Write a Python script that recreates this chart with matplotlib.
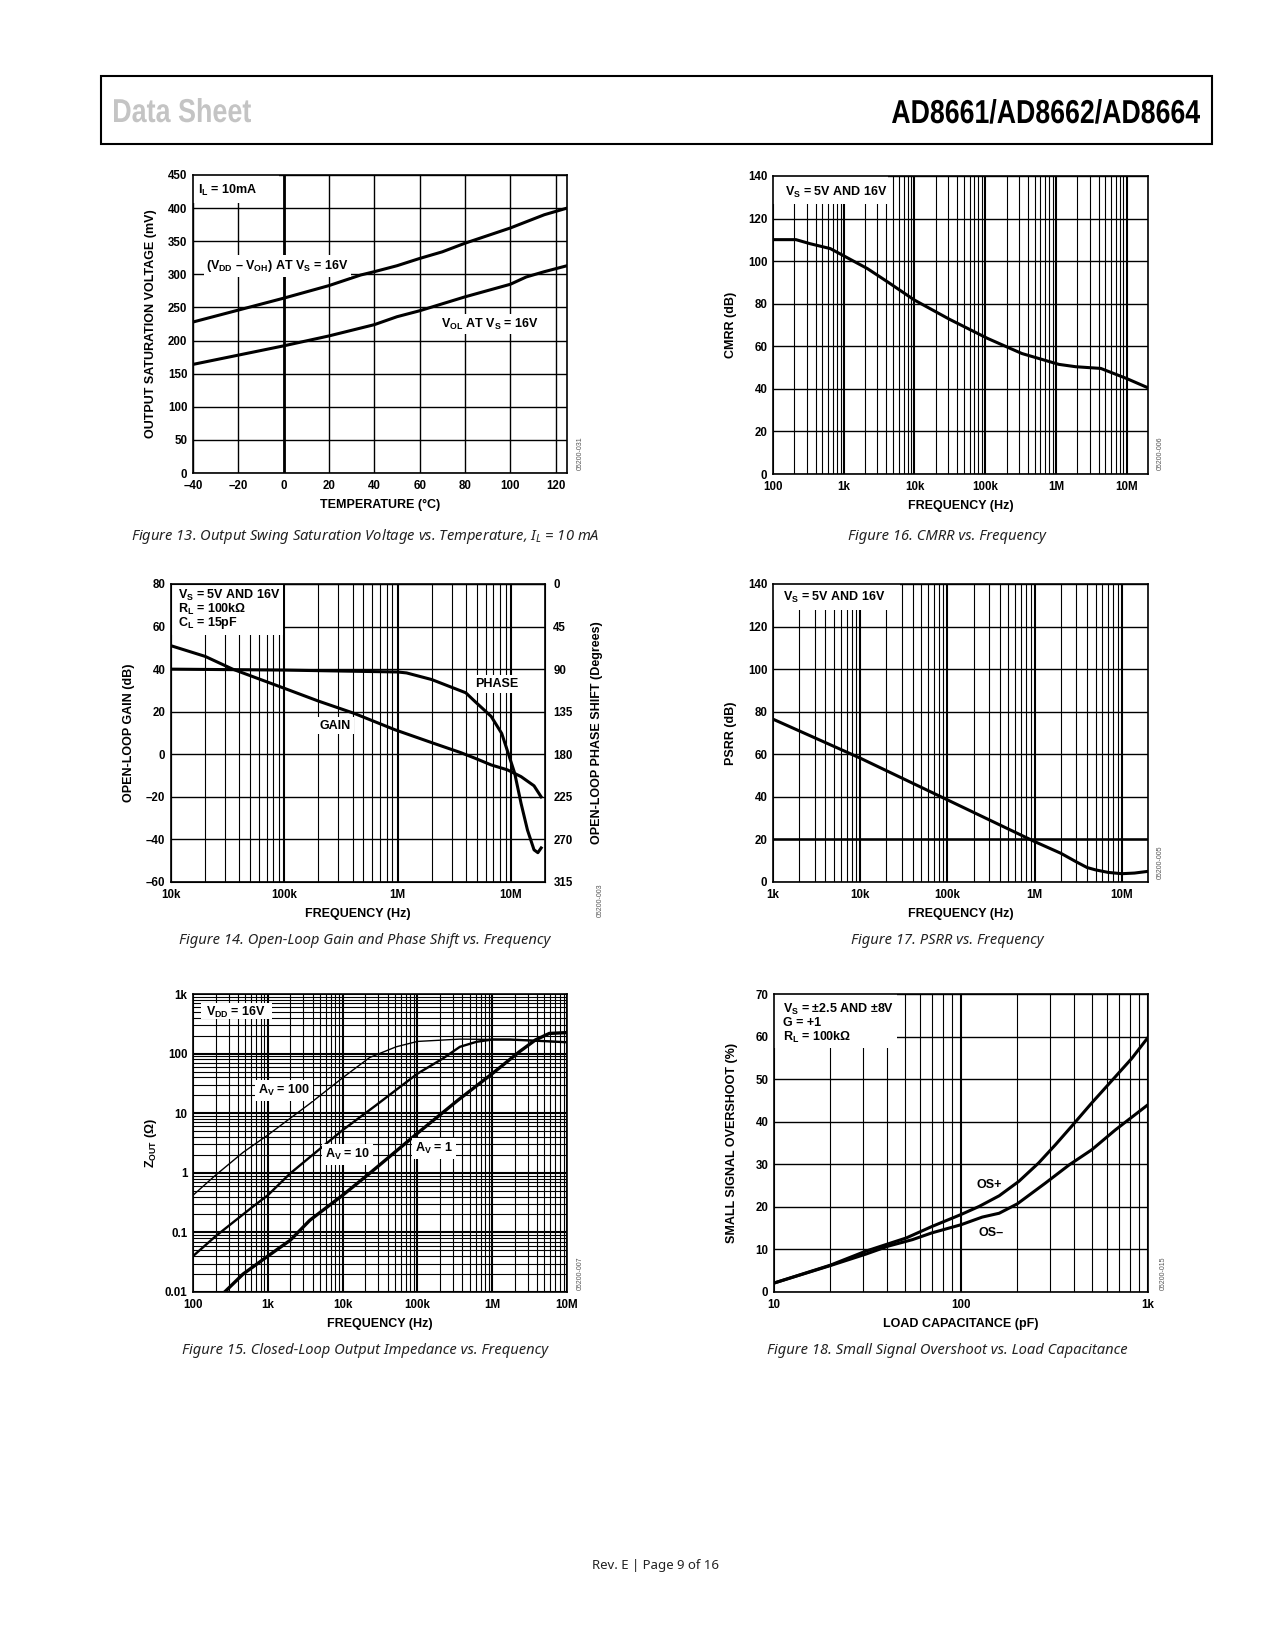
import numpy as np
import matplotlib.pyplot as plt
from matplotlib.patches import Rectangle, PathPatch
from matplotlib.ticker import LogLocator, NullFormatter
from matplotlib.textpath import TextPath
from matplotlib.font_manager import FontProperties
from matplotlib.transforms import Affine2D

plt.rcParams['font.family'] = ['Liberation Sans', 'DejaVu Sans']
plt.rcParams['font.weight'] = 'bold'
plt.rcParams['mathtext.fontset'] = 'custom'
plt.rcParams['mathtext.rm'] = 'Liberation Sans:bold'
plt.rcParams['mathtext.it'] = 'Liberation Sans:bold'
plt.rcParams['mathtext.bf'] = 'Liberation Sans:bold'
plt.rcParams['mathtext.sf'] = 'Noto Sans:italic'

# ---- Figure 13: saturation voltage vs temperature
temp_voh = [-40, -20, 0, 20, 34, 40, 50, 60, 70, 80, 100, 115, 125]
vdd_voh_mv = [228, 246, 264, 283, 299, 304, 313, 324, 334, 347, 370, 390, 400]
temp_vol = [-40, -20, 0, 20, 40, 50, 60, 80, 100, 107, 115, 125]
vol_mv = [164, 178, 192, 207, 224, 236, 245, 266, 285, 296, 304, 313]
temp_ticks = [-40, -20, 0, 20, 40, 60, 80, 100, 120]
temp_labels = ['–40', '–20', '0', '20', '40', '60', '80', '100', '120']
volt_ticks = [0, 50, 100, 150, 200, 250, 300, 350, 400, 450]

# ---- Figure 16: CMRR
cmrr_freq = [100, 211, 334, 645, 1e3, 2.16e3, 4.15e3, 1e4, 3.16e4, 1.08e5,
             3.3e5, 1.1e6, 1.9e6, 4.3e6, 9.9e6, 2e7]
cmrr_db = [110.1, 110.1, 108.2, 105.9, 102.5, 96.5, 90.3, 81.7, 72.6, 63.7,
           56.6, 51.5, 50.4, 49.6, 44.9, 40.5]

# ---- Figure 14: open-loop gain and phase
gain_freq = [1e4, 2e4, 3.5e4, 1e5, 2e5, 4.1e5, 9.5e5, 2.07e6, 3.6e6, 4.8e6,
             6.7e6, 9.3e6, 1.23e7, 1.6e7, 1.85e7]
gain_db = [51, 46, 40, 31, 25, 19.3, 11.5, 5.2, 0.8, -1.8, -5, -7.3, -10.5, -14.8, -20]
phase_freq = [1e4, 1e5, 1e6, 1.2e6, 2e6, 4e6, 4.8e6, 6.7e6, 8.3e6, 9.3e6,
              1.08e7, 1.23e7, 1.4e7, 1.6e7, 1.73e7, 1.85e7]
phase_deg = [90, 91, 93, 94, 101, 115, 124, 140, 158, 176, 200, 232, 260, 281, 284, 279]

# ---- Figure 17: PSRR
psrr_freq = [1e3, 1e4, 1e5, 1e6, 2e6, 3e6, 4e6, 5e6, 7e6, 1e7, 1.4e7, 2e7]
psrr_db = [76.5, 58.2, 38.6, 19, 13.5, 9.5, 6.8, 5.7, 4.5, 3.9, 4.2, 5]

# ---- Figure 15: closed-loop output impedance
av100_freq = [100, 200, 467, 1e3, 3.65e3, 1.02e4, 2.3e4, 5.2e4, 1e5, 3.7e5, 1.75e6, 4.9e6, 1e7]
av100_ohm = [0.42, 0.91, 2.2, 4.3, 14.5, 40, 86, 130, 160, 175, 172, 162, 155]
av10_freq = [100, 200, 630, 1e3, 2e3, 1e4, 2.8e4, 1e5, 2.2e5, 3.7e5, 6.2e5, 1e6, 1.75e6, 4.9e6, 1e7]
av10_ohm = [0.04, 0.086, 0.27, 0.42, 0.98, 5.2, 13.6, 46, 83, 130, 158, 172, 172, 162, 155]
av1_freq = [265, 467, 1e3, 2e3, 3.65e3, 1e4, 2.3e4, 1e5, 3.5e5, 1e6, 2.3e6, 3.8e6, 5.8e6, 1e7]
av1_ohm = [0.01, 0.02, 0.04, 0.074, 0.16, 0.42, 0.98, 4.6, 16.6, 46, 107, 170, 218, 225]

# ---- Figure 18: overshoot vs load capacitance
cap_pos = [10, 20, 31, 51, 70, 100, 125, 160, 204, 260, 320, 390, 500, 670, 820, 1000]
os_pos = [2.1, 6.3, 9.6, 12.7, 15.4, 18.2, 20.1, 22.6, 26, 30.3, 34.6, 38.9, 44.4, 50.6, 54.9, 59.8]
cap_neg = [10, 20, 31, 41, 55, 70, 100, 130, 160, 200, 283, 380, 500, 670, 1000]
os_neg = [2.1, 6.2, 8.9, 10.8, 12.3, 13.9, 15.8, 17.6, 18.5, 20.7, 25.6, 29.9, 33.4, 38.1, 44]

W, H = 1275, 1650
fig = plt.figure(figsize=(W / 100, H / 100), dpi=100)

TICK = 8.3
LAB = 9.0
CURVE = 2.2


def axes_at(left, top, right, bottom):
    return fig.add_axes([left / W, 1 - bottom / H, (right - left) / W, (bottom - top) / H])


def style(ax, xlab, ylab):
    ax.set_axisbelow(True)
    for s in ax.spines.values():
        s.set_linewidth(1.2)
    ax.tick_params(which='both', length=0, labelsize=TICK, pad=4)
    ax.tick_params(axis='x', pad=5)
    ax.set_xlabel(xlab, fontsize=LAB, fontweight='bold', va='center')
    ax.set_ylabel(ylab, fontsize=LAB, fontweight='bold', va='center')
    bb = ax.get_position()
    ax.xaxis.set_label_coords(0.5, -32 / (bb.height * H))
    ax.yaxis.set_label_coords(-42 / (bb.width * W), 0.5)


def log_grid(ax, axis='x'):
    target = ax.xaxis if axis == 'x' else ax.yaxis
    target.set_minor_locator(LogLocator(base=10, subs=np.arange(2, 10)))
    target.set_minor_formatter(NullFormatter())
    ax.grid(True, which='minor', axis=axis, color='black', lw=0.8)
    ax.grid(True, which='major', axis=axis, color='black', lw=1.5)


def white_box(ax, x0, y0, x1, y1):
    ax.add_patch(Rectangle((x0, y0), x1 - x0, y1 - y0, transform=ax.transAxes,
                           facecolor='white', edgecolor='none', zorder=1.5))


def note(ax, x, y, s, ha='left', box=False):
    kw = dict(transform=ax.transAxes, fontsize=LAB, fontweight='bold', ha=ha,
              va='center', zorder=4)
    if box:
        kw['bbox'] = dict(facecolor='white', edgecolor='none', pad=2)
    ax.text(x, y, s, **kw)


def fig_text(x, y, s, **kw):
    fig.text(x / W, 1 - y / H, s, **kw)


def code(x, y, s):
    fig_text(x, y, s, fontsize=5, color='#555555', rotation=90, ha='center',
             va='center', fontweight='normal')


def squeezed(s, x0, x1, ytop, ybase, color):
    # condensed header text: bold glyph outlines stretched into the given pixel box
    tp = TextPath((0, 0), s, size=100, prop=FontProperties(family='Liberation Sans', weight='bold'))
    ext = tp.get_extents()
    tr = (Affine2D().translate(-ext.x0, 0)
          .scale((x1 - x0) / ext.width, (ybase - ytop) / ext.y1)
          .translate(x0, H - ybase).scale(1 / W, 1 / H))
    fig.add_artist(PathPatch(tr.transform_path(tp), facecolor=color, edgecolor='none',
                             transform=fig.transFigure))


# header
fig.add_artist(Rectangle((101 / W, 1 - 144 / H), 1111 / W, 68 / H,
                         transform=fig.transFigure, facecolor='none',
                         edgecolor='black', lw=1.5))
squeezed('Data Sheet', 114, 251, 98, 122, '#c4c4c4')
squeezed('AD8661/AD8662/AD8664', 892, 1200, 99, 123, 'black')

cap_kw = dict(fontsize=10.6, style='italic', fontweight='normal', family=['Noto Sans', 'DejaVu Sans'],
              ha='center', va='center', color='#222222')

# ---------------- Figure 13
ax = axes_at(193, 175, 567, 473)
ax.plot(temp_voh, vdd_voh_mv, color='black', lw=CURVE, zorder=3)
ax.plot(temp_vol, vol_mv, color='black', lw=CURVE, zorder=3)
ax.set_xlim(-40, 125)
ax.set_ylim(0, 450)
ax.set_xticks(temp_ticks)
ax.set_xticklabels(temp_labels)
ax.set_yticks(volt_ticks)
ax.grid(True, color='black', lw=1.0)
ax.axvline(0, color='black', lw=2.0, zorder=0.6)
white_box(ax, 0, 0.905, 0.23, 1)
note(ax, 0.013, 0.947, 'I$_{\\mathrm{L}}$ = 10mA')
note(ax, 0.036, 0.695, '(V$_{\\mathrm{DD}}$ – V$_{\\mathrm{OH}}$) AT V$_{\\mathrm{S}}$ = 16V', box=True)
note(ax, 0.664, 0.50, 'V$_{\\mathrm{OL}}$ AT V$_{\\mathrm{S}}$ = 16V', box=True)
style(ax, 'TEMPERATURE (°C)', 'OUTPUT SATURATION VOLTAGE (mV)')
code(580, 453, '05200-031')
fig_text(365, 537, 'Figure 13. Output Swing Saturation Voltage vs. Temperature, $\\mathsf{I_L}$ = 10 mA', **cap_kw)

# ---------------- Figure 16
ax = axes_at(773, 176, 1148, 474)
ax.semilogx(cmrr_freq, cmrr_db, color='black', lw=CURVE, zorder=3)
ax.set_xlim(100, 2e7)
ax.set_ylim(0, 140)
ax.set_xticks([1e2, 1e3, 1e4, 1e5, 1e6, 1e7])
ax.set_xticklabels(['100', '1k', '10k', '100k', '1M', '10M'])
ax.set_yticks(np.arange(0, 141, 20))
log_grid(ax, 'x')
ax.grid(True, which='major', axis='y', color='black', lw=1.0)
white_box(ax, 0, 0.907, 0.307, 1)
note(ax, 0.031, 0.946, 'V$_{\\mathrm{S}}$ = 5V AND 16V')
style(ax, 'FREQUENCY (Hz)', 'CMRR (dB)')
code(1160, 453, '05200-006')
fig_text(947, 537, 'Figure 16. CMRR vs. Frequency', **cap_kw)

# ---------------- Figure 14
ax = axes_at(171, 584, 545, 882)
axr = ax.twinx()
ax.set_xscale('log')
ax.plot(gain_freq, gain_db, color='black', lw=CURVE, zorder=3)
axr.plot(phase_freq, phase_deg, color='black', lw=CURVE, zorder=3)
ax.set_xlim(1e4, 2e7)
ax.set_ylim(-60, 80)
ax.set_xticks([1e4, 1e5, 1e6, 1e7])
ax.set_xticklabels(['10k', '100k', '1M', '10M'])
ax.set_yticks(np.arange(-60, 81, 20))
ax.set_yticklabels(['–60', '–40', '–20', '0', '20', '40', '60', '80'])
log_grid(ax, 'x')
ax.grid(True, which='major', axis='y', color='black', lw=1.0)
white_box(ax, 0, 0.829, 0.30, 1)
note(ax, 0.02, 0.963, 'V$_{\\mathrm{S}}$ = 5V AND 16V')
note(ax, 0.02, 0.915, 'R$_{\\mathrm{L}}$ = 100kΩ')
note(ax, 0.02, 0.868, 'C$_{\\mathrm{L}}$ = 15pF')
note(ax, 0.871, 0.664, 'PHASE', ha='center', box=True)
note(ax, 0.439, 0.525, 'GAIN', ha='center', box=True)
style(ax, 'FREQUENCY (Hz)', 'OPEN-LOOP GAIN (dB)')
axr.set_ylim(315, 0)
axr.set_yticks(np.arange(0, 316, 45))
axr.tick_params(which='both', length=0, labelsize=TICK, pad=6)
axr.set_ylabel('OPEN-LOOP PHASE SHIFT (Degrees)', fontsize=LAB, fontweight='bold', va='center')
axr.yaxis.set_label_coords(1 + 52 / 374, 0.5)
code(600, 900, '05200-003')
fig_text(365, 940, 'Figure 14. Open-Loop Gain and Phase Shift vs. Frequency', **cap_kw)

# ---------------- Figure 17
ax = axes_at(773, 584, 1148, 882)
ax.semilogx(psrr_freq, psrr_db, color='black', lw=CURVE, zorder=3)
ax.set_xlim(1e3, 2e7)
ax.set_ylim(0, 140)
ax.set_xticks([1e3, 1e4, 1e5, 1e6, 1e7])
ax.set_xticklabels(['1k', '10k', '100k', '1M', '10M'])
ax.set_yticks(np.arange(0, 141, 20))
log_grid(ax, 'x')
ax.grid(True, which='major', axis='y', color='black', lw=1.0)
ax.axhline(20, color='black', lw=1.8, zorder=0.6)
white_box(ax, 0, 0.913, 0.338, 1)
note(ax, 0.027, 0.955, 'V$_{\\mathrm{S}}$ = 5V AND 16V')
style(ax, 'FREQUENCY (Hz)', 'PSRR (dB)')
code(1160, 862, '05200-005')
fig_text(947, 940, 'Figure 17. PSRR vs. Frequency', **cap_kw)

# ---------------- Figure 15
ax = axes_at(193, 994, 567, 1292)
ax.loglog(av100_freq, av100_ohm, color='black', lw=1.0, zorder=3)
ax.loglog(av10_freq, av10_ohm, color='black', lw=1.7, zorder=3)
ax.loglog(av1_freq, av1_ohm, color='black', lw=2.4, zorder=3)
ax.set_xlim(100, 1e7)
ax.set_ylim(0.01, 1000)
ax.set_xticks([1e2, 1e3, 1e4, 1e5, 1e6, 1e7])
ax.set_xticklabels(['100', '1k', '10k', '100k', '1M', '10M'])
ax.set_yticks([0.01, 0.1, 1, 10, 100, 1000])
ax.set_yticklabels(['0.01', '0.1', '1', '10', '100', '1k'])
log_grid(ax, 'x')
log_grid(ax, 'y')
white_box(ax, 0.022, 0.915, 0.21, 0.969)
note(ax, 0.036, 0.938, 'V$_{\\mathrm{DD}}$ = 16V')
note(ax, 0.174, 0.677, 'A$_{\\mathrm{V}}$ = 100', box=True)
note(ax, 0.353, 0.461, 'A$_{\\mathrm{V}}$ = 10', box=True)
note(ax, 0.594, 0.482, 'A$_{\\mathrm{V}}$ = 1', box=True)
style(ax, 'FREQUENCY (Hz)', 'Z$_{\\mathrm{OUT}}$ (Ω)')
code(580, 1273, '05200-007')
fig_text(365, 1351, 'Figure 15. Closed-Loop Output Impedance vs. Frequency', **cap_kw)

# ---------------- Figure 18
ax = axes_at(774, 994, 1148, 1292)
ax.semilogx(cap_pos, os_pos, color='black', lw=CURVE, zorder=3)
ax.semilogx(cap_neg, os_neg, color='black', lw=CURVE, zorder=3)
ax.set_xlim(10, 1000)
ax.set_ylim(0, 70)
ax.set_xticks([10, 100, 1000])
ax.set_xticklabels(['10', '100', '1k'])
ax.set_yticks(np.arange(0, 71, 10))
log_grid(ax, 'x')
ax.grid(True, which='major', axis='y', color='black', lw=1.0)
white_box(ax, 0, 0.818, 0.328, 1)
note(ax, 0.023, 0.949, 'V$_{\\mathrm{S}}$ = ±2.5 AND ±8V')
note(ax, 0.023, 0.902, 'G = +1')
note(ax, 0.023, 0.854, 'R$_{\\mathrm{L}}$ = 100kΩ')
note(ax, 0.575, 0.358, 'OS+', ha='center')
note(ax, 0.581, 0.198, 'OS–', ha='center')
style(ax, 'LOAD CAPACITANCE (pF)', 'SMALL SIGNAL OVERSHOOT (%)')
code(1163, 1273, '05200-015')
fig_text(947, 1351, 'Figure 18. Small Signal Overshoot vs. Load Capacitance', **cap_kw)

fig_text(656, 1565, 'Rev. E | Page 9 of 16', fontsize=9.5, fontweight='normal',
         family=['Noto Sans', 'DejaVu Sans'], ha='center', va='center', color='#222222')

fig.savefig('out.png', dpi=100, facecolor='white')
